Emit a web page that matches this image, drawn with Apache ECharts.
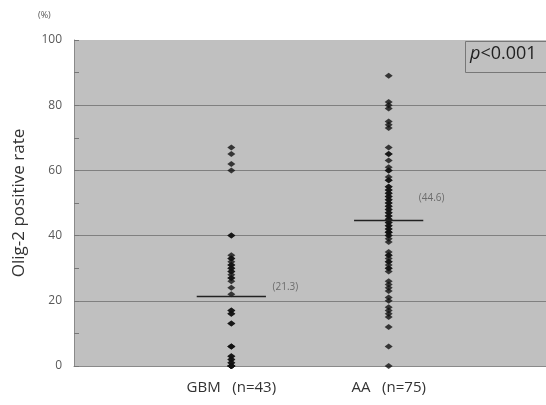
<!DOCTYPE html>
<html>
<head>
<meta charset="utf-8">
<script src="https://cdn.jsdelivr.net/npm/echarts@6/dist/echarts.min.js"></script>
<style>
  html, body { margin: 0; padding: 0; background: #fff; }
  #main { width: 546px; height: 405px; }
</style>
</head>
<body>
<div id="main"></div>
<script>
// groups and their x slot
var groups = ['GBM   (n=43)', 'AA   (n=75)'];
var groupX = [1, 2];

// Olig-2 positive rate (%) per case
var gbmValues = [67, 65, 62, 60, 40, 40, 34, 33, 33, 32, 31, 31, 30, 30, 29, 29, 28, 27, 27, 26, 24, 22,
  17, 17, 16, 16, 13, 13, 6, 6, 6, 3, 3, 2, 2, 1, 1, 0, 0, 0, 0, 0, 0];
var aaValues = [89, 81, 80, 79, 75, 74, 73, 67, 65, 65, 63, 61, 60, 60, 58, 57, 57,
  55, 55, 54, 54, 53, 53, 52, 52, 51, 51, 50, 50, 49, 49, 48, 48, 47, 47, 46, 46, 45, 45,
  44, 44, 43, 43, 42, 42, 41, 41, 41, 40, 40, 39, 38,
  35, 34, 34, 33, 32, 32, 31, 30, 30, 29, 26, 25, 24, 23, 21, 20, 18, 17, 16, 15, 12, 6, 0];

// group means
var means = [21.3, 44.6];
var meanLabels = ['(21.3)', '(44.6)'];

var yTicks = [0, 20, 40, 60, 80, 100];

var chart = echarts.init(document.getElementById('main'));

var halfWidth = 0.22;
var labelOffsets = [[54, -9], [43, -22]];

var series = [];
[gbmValues, aaValues].forEach(function (vals, i) {
  series.push({
    type: 'scatter',
    symbol: 'diamond',
    symbolSize: [8, 6],
    itemStyle: { color: '#111' },
    data: vals.map(function (v) { return [groupX[i], v]; }),
    z: 3
  });
  series.push({
    type: 'line',
    showSymbol: false,
    lineStyle: { color: '#222', width: 1.5 },
    data: [[groupX[i] - halfWidth, means[i]], [groupX[i] + halfWidth, means[i]]],
    z: 4
  });
  series.push({
    type: 'scatter',
    symbolSize: 0,
    data: [[groupX[i], means[i]]],
    label: {
      show: true,
      position: 'inside',
      offset: labelOffsets[i],
      formatter: meanLabels[i],
      color: '#555',
      fontSize: 10,
      fontFamily: 'Open Sans'
    },
    silent: true
  });
});

chart.setOption({
  animation: false,
  grid: {
    left: 74, right: 0, top: 40, bottom: 39,
    outerBoundsMode: 'none',
    show: true, backgroundColor: '#c0c0c0', borderWidth: 0
  },
  xAxis: {
    type: 'value',
    min: 0, max: 3,
    axisLine: { show: true, lineStyle: { color: '#8a8a8a' } },
    axisTick: { show: false },
    splitLine: { show: false },
    axisLabel: {
      customValues: groupX,
      formatter: function (v) {
        var k = groupX.indexOf(v);
        return k >= 0 ? groups[k] : '';
      },
      color: '#333', fontSize: 15, fontFamily: 'Open Sans', margin: 14
    }
  },
  yAxis: {
    type: 'value',
    min: 0, max: 100, interval: 20,
    name: 'Olig-2 positive rate',
    nameLocation: 'middle',
    nameGap: 46,
    nameTextStyle: { color: '#333', fontSize: 17, fontFamily: 'Open Sans' },
    axisLine: { show: true, lineStyle: { color: '#8a8a8a' } },
    axisTick: { show: true, inside: true, length: 5, lineStyle: { color: '#777' } },
    minorTick: { show: true, splitNumber: 2, length: 5, lineStyle: { color: '#777' } },
    axisLabel: {
      customValues: yTicks,
      color: '#595959', fontSize: 12, fontFamily: 'Open Sans', margin: 12
    },
    splitLine: {
      lineStyle: { color: ['#8a8a8a', '#808080', '#808080', '#808080', '#808080', 'rgba(0,0,0,0)'], width: 1 }
    }
  },
  graphic: [
    {
      type: 'text', left: 38, top: 11,
      style: { text: '(%)', fill: '#555', fontSize: 9, fontFamily: 'Open Sans' }
    },
    {
      type: 'rect', left: 465, top: 41, z: 10,
      shape: { width: 85, height: 31 },
      style: { fill: '#c0c0c0', stroke: '#777', lineWidth: 1 }
    },
    {
      type: 'text', left: 470, top: 45, z: 11,
      style: {
        text: '{i|p}<0.001',
        fill: '#222', fontSize: 18, fontFamily: 'Open Sans',
        rich: { i: { fontStyle: 'italic', fontSize: 18, fontFamily: 'Open Sans', fill: '#222' } }
      }
    }
  ],
  series: series
});
</script>
</body>
</html>
